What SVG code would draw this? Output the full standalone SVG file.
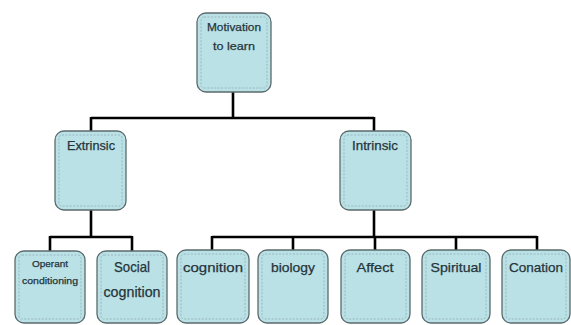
<svg xmlns="http://www.w3.org/2000/svg" width="571" height="325" viewBox="0 0 571 325">
<style>
.box{fill:#b9e1e6;stroke:#5a6a6c;stroke-width:1.3}
.inner{fill:none;stroke:#8fa9ad;stroke-width:0.7;stroke-dasharray:2 1.5}
.lbl{font-family:"Liberation Sans",Arial,sans-serif;fill:#26343a;stroke:#26343a;stroke-width:0.25;text-anchor:middle}
.conn{fill:none;stroke:#000;stroke-width:2.6}
</style>
<rect width="571" height="325" fill="#fff"/>
<g id="connectors">
<path class="conn" d="M233 92V118M91 118H374M91 117V131M374 117V131"/>
<path class="conn" d="M91 210V237M50 237H132M50 236V251M132 236V251"/>
<path class="conn" d="M374 210V237M212 237H537M212 236V250M293 236V250M375 236V250M456 236V250M537 236V250"/>
</g>
<g id="motivation">
<rect class="box" x="197" y="13" width="74" height="79" rx="9"/>
<rect class="inner" x="201" y="17" width="66" height="71" rx="3"/>
<text class="lbl" x="234" y="31" font-size="11.5" textLength="54" lengthAdjust="spacingAndGlyphs">Motivation</text>
<text class="lbl" x="234" y="50" font-size="11.5" textLength="42" lengthAdjust="spacingAndGlyphs">to learn</text>
</g>
<g id="extrinsic">
<rect class="box" x="55" y="131" width="71" height="79" rx="9"/>
<rect class="inner" x="59" y="135" width="63" height="71" rx="3"/>
<text class="lbl" x="91" y="150" font-size="12.5" textLength="48" lengthAdjust="spacingAndGlyphs">Extrinsic</text>
</g>
<g id="intrinsic">
<rect class="box" x="340" y="131" width="71" height="79" rx="9"/>
<rect class="inner" x="344" y="135" width="63" height="71" rx="3"/>
<text class="lbl" x="375" y="150" font-size="12.5" textLength="46" lengthAdjust="spacingAndGlyphs">Intrinsic</text>
</g>
<g id="operant">
<rect class="box" x="15" y="251" width="70" height="72" rx="9"/>
<rect class="inner" x="19" y="255" width="62" height="64" rx="3"/>
<text class="lbl" x="50" y="267" font-size="9.5" textLength="36" lengthAdjust="spacingAndGlyphs">Operant</text>
<text class="lbl" x="50" y="284" font-size="9.5" textLength="56" lengthAdjust="spacingAndGlyphs">conditioning</text>
</g>
<g id="social">
<rect class="box" x="97" y="251" width="70" height="72" rx="9"/>
<rect class="inner" x="101" y="255" width="62" height="64" rx="3"/>
<text class="lbl" x="132" y="272" font-size="14.5" textLength="36" lengthAdjust="spacingAndGlyphs">Social</text>
<text class="lbl" x="132" y="297" font-size="14.5" textLength="57" lengthAdjust="spacingAndGlyphs">cognition</text>
</g>
<g id="cognition">
<rect class="box" x="177" y="250" width="72" height="73" rx="9"/>
<rect class="inner" x="181" y="254" width="64" height="65" rx="3"/>
<text class="lbl" x="213" y="272" font-size="13.5" textLength="60" lengthAdjust="spacingAndGlyphs">cognition</text>
</g>
<g id="biology">
<rect class="box" x="258" y="250" width="70" height="73" rx="9"/>
<rect class="inner" x="262" y="254" width="62" height="65" rx="3"/>
<text class="lbl" x="293" y="272" font-size="13.5" textLength="44" lengthAdjust="spacingAndGlyphs">biology</text>
</g>
<g id="affect">
<rect class="box" x="341" y="250" width="69" height="73" rx="9"/>
<rect class="inner" x="345" y="254" width="61" height="65" rx="3"/>
<text class="lbl" x="375" y="272" font-size="13.5" textLength="37" lengthAdjust="spacingAndGlyphs">Affect</text>
</g>
<g id="spiritual">
<rect class="box" x="422" y="250" width="68" height="73" rx="9"/>
<rect class="inner" x="426" y="254" width="60" height="65" rx="3"/>
<text class="lbl" x="456" y="272" font-size="13.5" textLength="51" lengthAdjust="spacingAndGlyphs">Spiritual</text>
</g>
<g id="conation">
<rect class="box" x="502" y="250" width="68" height="73" rx="9"/>
<rect class="inner" x="506" y="254" width="60" height="65" rx="3"/>
<text class="lbl" x="536" y="272" font-size="13.5" textLength="54" lengthAdjust="spacingAndGlyphs">Conation</text>
</g>
</svg>
